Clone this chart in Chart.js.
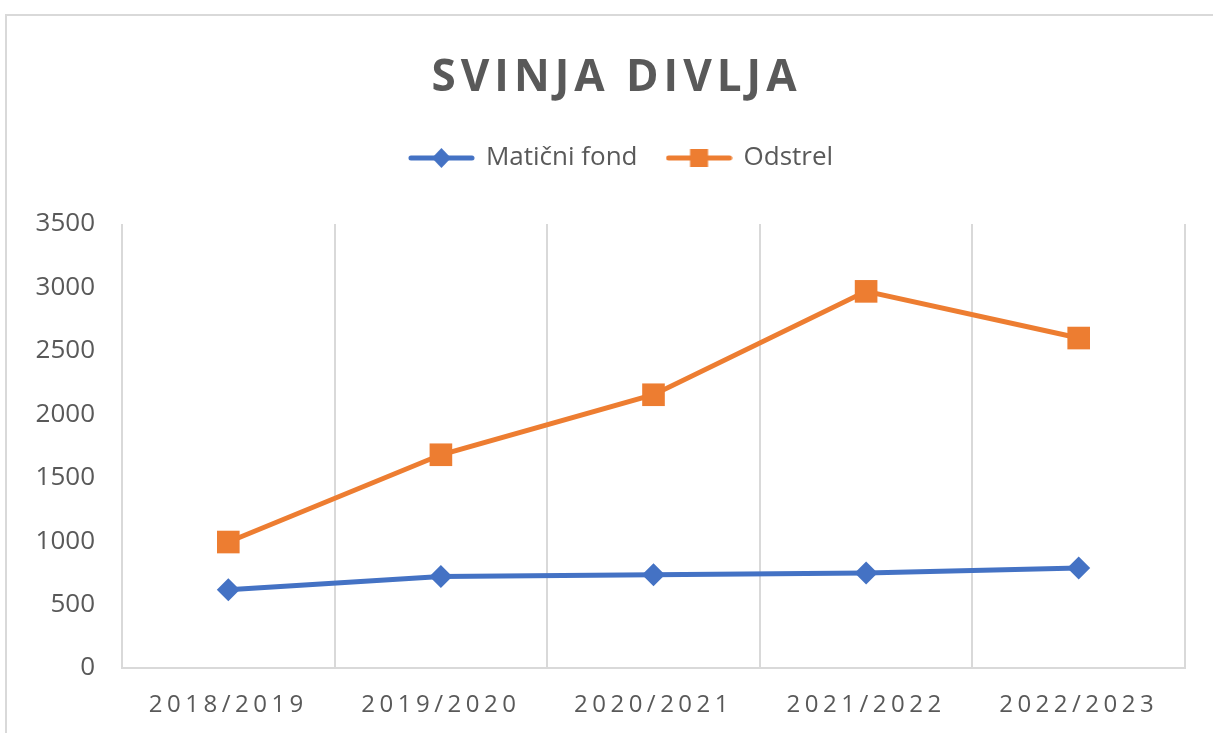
<!DOCTYPE html>
<html><head><meta charset="utf-8">
<script src="https://cdn.jsdelivr.net/npm/chart.js@4/dist/chart.umd.min.js"></script>
<style>html,body{margin:0;padding:0;background:#fff;overflow:hidden}#w{width:1213px;height:733px;position:relative}</style>
</head><body><div id="w"><canvas id="c"></canvas></div>
<script>
const categories = ['2018/2019','2019/2020','2020/2021','2021/2022','2022/2023'];
const maticniFond = [617, 722, 735, 749, 788];
const odstrel = [993, 1681, 2154, 2969, 2601];
const yTicks = [0, 500, 1000, 1500, 2000, 2500, 3000, 3500];
const titleText = 'SVINJA DIVLJA';
const seriesNames = ['Matični fond', 'Odstrel'];

const BLUE = '#4472C4', ORANGE = '#ED7D31', TXT = '#595959', GRID = '#d9d9d9';
const FONT = "'Open Sans', 'Noto Sans', sans-serif";

function legendIcon(color, kind) {
  const c = document.createElement('canvas');
  c.width = 67; c.height = 24;
  const g = c.getContext('2d');
  g.strokeStyle = color; g.lineWidth = 5; g.lineCap = 'round';
  g.beginPath(); g.moveTo(3, 12); g.lineTo(64, 12); g.stroke();
  g.fillStyle = color;
  if (kind === 'diamond') {
    g.beginPath(); g.moveTo(33.5, 2); g.lineTo(43, 12); g.lineTo(33.5, 22); g.lineTo(24, 12); g.closePath(); g.fill();
  } else {
    g.fillRect(24.5, 3, 18, 18);
  }
  return c;
}
const icons = [legendIcon(BLUE, 'diamond'), legendIcon(ORANGE, 'square')];

const spacing = {
  id: 'spacing',
  afterLayout(chart) {
    const x = chart.scales.x;
    if (x && !x._ls) {
      const orig = x.drawLabels;
      x.drawLabels = function (a) { const ctx = this.ctx; ctx.save(); ctx.letterSpacing = '4.5px'; orig.call(this, a); ctx.restore(); };
      x._ls = true;
    }
    const t = chart.titleBlock;
    if (t && !t._ls) {
      const o = t.draw;
      t.draw = function () { const ctx = this.ctx; ctx.save(); ctx.translate(24, 0); ctx.letterSpacing = '5px'; o.call(this); ctx.restore(); };
      t._ls = true;
    }
    const l = chart.legend;
    if (l && !l._ls) {
      const o = l.draw;
      l.draw = function () { const ctx = this.ctx; ctx.save(); ctx.translate(29, 0); o.call(this); ctx.restore(); };
      l._ls = true;
    }
  },
  beforeDraw(chart) {
    const ctx = chart.ctx;
    ctx.save();
    ctx.fillStyle = '#fff';
    ctx.fillRect(0, 0, chart.width, chart.height);
    ctx.strokeStyle = GRID; ctx.lineWidth = 2;
    ctx.strokeRect(6, 15, chart.width + 20, chart.height + 20);
    ctx.restore();
  }
};

new Chart(document.getElementById('c'), {
  type: 'line',
  data: {
    labels: categories,
    datasets: [
      { label: seriesNames[0], data: maticniFond, borderColor: BLUE, backgroundColor: BLUE, borderWidth: 5,
        pointStyle: 'rectRot', pointRadius: 11.5, pointHoverRadius: 11.5, pointBorderWidth: 0, tension: 0 },
      { label: seriesNames[1], data: odstrel, borderColor: ORANGE, backgroundColor: ORANGE, borderWidth: 5,
        pointStyle: 'rect', pointRadius: 16, pointHoverRadius: 16, pointBorderWidth: 0, tension: 0 }
    ]
  },
  options: {
    responsive: true, maintainAspectRatio: false, animation: false,
    layout: { padding: { left: 0, right: 28, top: 0, bottom: 0 } },
    plugins: {
      tooltip: { enabled: false },
      title: { display: true, text: titleText, color: TXT, font: { family: FONT, size: 44, weight: 'bold', lineHeight: 1.2 },
        padding: { top: 51.6, bottom: 10.6 } },
      subtitle: { display: true, text: ' ', weight: 500, font: { size: 10, lineHeight: 1 }, padding: { top: 0, bottom: 33 } },
      legend: {
        display: true, position: 'top',
        labels: {
          color: TXT, font: { family: FONT, size: 26 }, padding: 30,
          usePointStyle: true, pointStyleWidth: 63, boxHeight: 26,
          generateLabels(chart) {
            const items = Chart.defaults.plugins.legend.labels.generateLabels(chart);
            items.forEach((it, i) => { it.pointStyle = icons[i]; });
            return items;
          }
        }
      }
    },
    scales: {
      x: {
        offset: true,
        grid: { display: true, offset: true, color: GRID, lineWidth: 2, drawTicks: false },
        border: { display: true, color: GRID, width: 2 },
        ticks: { color: TXT, font: { family: FONT, size: 24 }, padding: 23, maxRotation: 0 },
        afterFit(s) { s.height = 65; }
      },
      y: {
        min: 0, max: 3500,
        afterBuildTicks(s) { s.ticks = yTicks.map(v => ({ value: v })); },
        grid: { display: false, drawTicks: false },
        border: { display: false },
        ticks: { color: TXT, font: { family: FONT, size: 26 }, padding: 27, callback: v => String(v) },
        afterFit(s) { s.width = 122; }
      }
    }
  },
  plugins: [spacing]
});
</script>
</body></html>
